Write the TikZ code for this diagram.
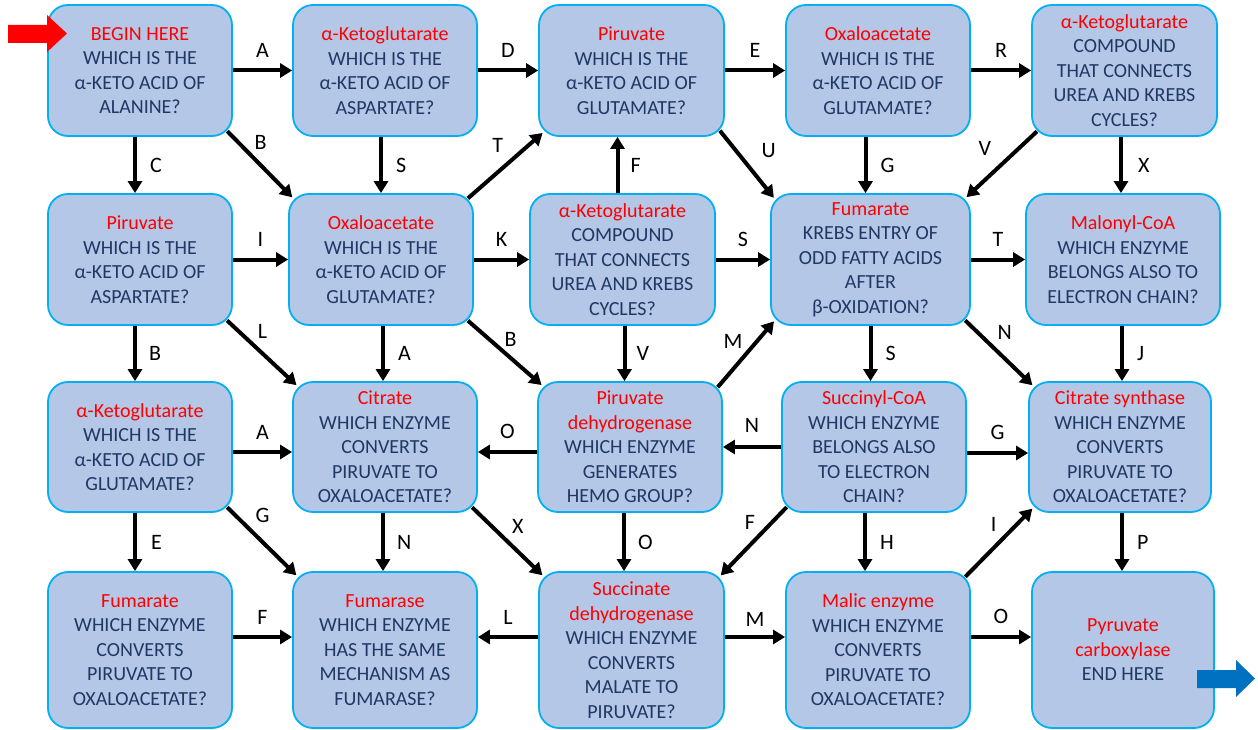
\documentclass[tikz,border=0pt]{standalone}
\usepackage{fontspec}
\setmainfont{Carlito}
\usetikzlibrary{arrows.meta,positioning}
\definecolor{boxfill}{RGB}{180,199,231}
\definecolor{boxline}{RGB}{0,176,240}
\definecolor{qtext}{RGB}{32,56,100}
\definecolor{startred}{RGB}{255,0,0}
\definecolor{endblue}{RGB}{0,112,192}
\newcommand{\ans}[1]{\textcolor{red}{#1}}
\tikzset{
  qbox/.style={draw=boxline,line width=1.8pt,fill=boxfill,rounded corners=20pt,align=center,text=qtext,inner sep=0pt,minimum width=184pt,minimum height=131pt,font=\fontsize{20}{24.5}\selectfont},
  tall/.style={minimum height=156pt},
  arr/.style={line width=4pt,-{Triangle[length=12pt,width=14pt]}},
  diag/.style={shorten <=-8pt,shorten >=-6pt},
  lbl/.style={font=\fontsize{22}{26}\selectfont,inner sep=0pt},
}

\begin{document}
\begin{tikzpicture}[x=1pt,y=-1pt]
  \useasboundingbox (0,0) rectangle (1258,730);
  % row 1
  \node[qbox] (B11) at (140,70.5) {\ans{BEGIN HERE}\\WHICH IS THE\\α-KETO ACID OF\\ALANINE?};
  \node[qbox] (B12) at (385,70.5) {\ans{α-Ketoglutarate}\\WHICH IS THE\\α-KETO ACID OF\\ASPARTATE?};
  \node[qbox,minimum width=185pt] (B13) at (631.5,70.5) {\ans{Piruvate}\\WHICH IS THE\\α-KETO ACID OF\\GLUTAMATE?};
  \node[qbox] (B14) at (878,70.5) {\ans{Oxaloacetate}\\WHICH IS THE\\α-KETO ACID OF\\GLUTAMATE?};
  \node[qbox,minimum width=185pt] (B15) at (1124.5,70.5) {\ans{α-Ketoglutarate}\\COMPOUND\\THAT CONNECTS\\UREA AND KREBS\\CYCLES?};
  % row 2
  \node[qbox] (B21) at (140,259.5) {\ans{Piruvate}\\WHICH IS THE\\α-KETO ACID OF\\ASPARTATE?};
  \node[qbox] (B22) at (381,259.5) {\ans{Oxaloacetate}\\WHICH IS THE\\α-KETO ACID OF\\GLUTAMATE?};
  \node[qbox,minimum width=185pt] (B23) at (622.5,259.5) {\ans{α-Ketoglutarate}\\COMPOUND\\THAT CONNECTS\\UREA AND KREBS\\CYCLES?};
  \node[qbox,minimum width=199pt] (B24) at (870.5,259.5) {\ans{Fumarate}\\KREBS ENTRY OF\\ODD FATTY ACIDS\\AFTER\\β-OXIDATION?};
  \node[qbox,minimum width=194pt] (B25) at (1123,259.5) {\ans{Malonyl-CoA}\\WHICH ENZYME\\BELONGS ALSO TO\\ELECTRON CHAIN?};
  % row 3
  \node[qbox,minimum height=130pt] (B31) at (140,447) {\ans{α-Ketoglutarate}\\WHICH IS THE\\α-KETO ACID OF\\GLUTAMATE?};
  \node[qbox,minimum height=130pt] (B32) at (385,447) {\ans{Citrate}\\WHICH ENZYME\\CONVERTS\\PIRUVATE TO\\OXALOACETATE?};
  \node[qbox,minimum height=130pt] (B33) at (630,447) {\ans{Piruvate}\\\ans{dehydrogenase}\\WHICH ENZYME\\GENERATES\\HEMO GROUP?};
  \node[qbox,minimum height=130pt] (B34) at (874,447) {\ans{Succinyl-CoA}\\WHICH ENZYME\\BELONGS ALSO\\TO ELECTRON\\CHAIN?};
  \node[qbox,minimum height=130pt,minimum width=182pt] (B35) at (1120,447) {\ans{Citrate synthase}\\WHICH ENZYME\\CONVERTS\\PIRUVATE TO\\OXALOACETATE?};
  % row 4
  \node[qbox,tall] (B41) at (140,650) {\ans{Fumarate}\\WHICH ENZYME\\CONVERTS\\PIRUVATE TO\\OXALOACETATE?};
  \node[qbox,tall] (B42) at (385,650) {\ans{Fumarase}\\WHICH ENZYME\\HAS THE SAME\\MECHANISM AS\\FUMARASE?};
  \node[qbox,tall,minimum width=185pt] (B43) at (631.5,650) {\ans{Succinate}\\\ans{dehydrogenase}\\WHICH ENZYME\\CONVERTS\\MALATE TO\\PIRUVATE?};
  \node[qbox,tall] (B44) at (878,650) {\ans{Malic enzyme}\\WHICH ENZYME\\CONVERTS\\PIRUVATE TO\\OXALOACETATE?};
  \node[qbox,tall,minimum width=182pt] (B45) at (1123,650) {\ans{Pyruvate}\\\ans{carboxylase}\\END HERE};
  % start and end
  \fill[startred] (8,25) -- (47,25) -- (47,15) -- (67,33.5) -- (47,52) -- (47,43) -- (8,43) -- cycle;
  \fill[endblue] (1197,670) -- (1236,670) -- (1236,660) -- (1255,678.5) -- (1236,697) -- (1236,688) -- (1197,688) -- cycle;
  % across
  \draw[arr] (B11.east) -- (B12.west) node[lbl,midway,above=11pt] {A};
  \draw[arr] (B12.east) -- (B13.west) node[lbl,midway,above=11pt] {D};
  \draw[arr] (B13.east) -- (B14.west) node[lbl,midway,above=11pt] {E};
  \draw[arr] (B14.east) -- (B15.west) node[lbl,midway,above=11pt] {R};
  \draw[arr] (B21.east) -- (B22.west) node[lbl,midway,above=11pt] {I};
  \draw[arr] (B22.east) -- (B23.west) node[lbl,midway,above=11pt] {K};
  \draw[arr] (B23.east) -- (B24.west) node[lbl,midway,above=11pt] {S};
  \draw[arr] (B24.east) -- (B25.west) node[lbl,midway,above=11pt] {T};
  \draw[arr] ([yshift=-5pt]B31.east) -- ([yshift=-5pt]B32.west) node[lbl,midway,above=11pt] {A};
  \draw[arr] ([yshift=-5pt]B33.west) -- ([yshift=-5pt]B32.east) node[lbl,midway,above=11pt] {O};
  \draw[arr] (B34.west) -- (B33.east) node[lbl,midway,above=13pt] {N};
  \draw[arr] ([yshift=-6pt]B34.east) -- ([yshift=-6pt]B35.west) node[lbl,midway,above=11pt] {G};
  \draw[arr] ([yshift=13pt]B41.east) -- ([yshift=13pt]B42.west) node[lbl,midway,above=11pt] {F};
  \draw[arr] ([yshift=13pt]B43.west) -- ([yshift=13pt]B42.east) node[lbl,midway,above=11pt] {L};
  \draw[arr] ([yshift=13pt]B43.east) -- ([yshift=13pt]B44.west) node[lbl,midway,above=9pt] {M};
  \draw[arr] ([yshift=13pt]B44.east) -- ([yshift=13pt]B45.west) node[lbl,midway,above=11pt] {O};
  % down and up
  \draw[arr] ([xshift=-5pt]B11.south) -- ([xshift=-5pt]B11.south |- B21.north) node[lbl,midway,right=13pt] {C};
  \draw[arr] ([xshift=-4pt]B12.south) -- ([xshift=-4pt]B12.south |- B22.north) node[lbl,midway,right=13pt] {S};
  \draw[arr] ([xshift=-5pt]B23.north) -- ([xshift=-5pt]B23.north |- B13.south) node[lbl,midway,right=11pt] {F};
  \draw[arr] ([xshift=-5pt]B24.north |- B14.south) -- ([xshift=-5pt]B24.north) node[lbl,midway,right=13pt] {G};
  \draw[arr] ([xshift=-2pt]B25.north |- B15.south) -- ([xshift=-2pt]B25.north) node[lbl,midway,right=15pt] {X};
  \draw[arr] ([xshift=-5pt]B21.south) -- ([xshift=-5pt]B21.south |- B31.north) node[lbl,midway,right=12pt] {B};
  \draw[arr] ([xshift=2pt]B22.south) -- ([xshift=2pt]B22.south |- B32.north) node[lbl,midway,right=13pt] {A};
  \draw[arr] ([xshift=2pt]B23.south) -- ([xshift=2pt]B23.south |- B33.north) node[lbl,midway,right=10pt] {V};
  \draw[arr] (B24.south) -- (B24.south |- B34.north) node[lbl,midway,right=13pt] {S};
  \draw[arr] ([xshift=-1pt]B25.south) -- ([xshift=-1pt]B25.south |- B35.north) node[lbl,midway,right=13pt] {J};
  \draw[arr] ([xshift=-5pt]B31.south) -- ([xshift=-5pt]B31.south |- B41.north) node[lbl,midway,right=14pt] {E};
  \draw[arr] ([xshift=-2pt]B32.south) -- ([xshift=-2pt]B32.south |- B42.north) node[lbl,midway,right=12pt] {N};
  \draw[arr] ([xshift=-6pt]B33.south) -- ([xshift=-6pt]B33.south |- B43.north) node[lbl,midway,right=12pt] {O};
  \draw[arr] ([xshift=-9pt]B34.south) -- ([xshift=-9pt]B34.south |- B44.north) node[lbl,midway,right=13pt] {H};
  \draw[arr] ([xshift=2pt]B35.south) -- ([xshift=2pt]B35.south |- B45.north) node[lbl,midway,right=13pt] {P};
  % diagonals
  \draw[arr,diag] (B11.south east) -- (B22.north west) node[lbl,midway,above=13pt] {B};
  \draw[arr,diag] (B22.north east) -- (B13.south west) node[lbl,midway,above left=10pt and 1pt] {T};
  \draw[arr,diag] (B13.south east) -- (B24.north west) node[lbl,midway,above right=5pt and 12pt] {U};
  \draw[arr,diag] (B15.south west) -- (B24.north east) node[lbl,midway,above left=7pt and 8pt] {V};
  \draw[arr,diag] (B21.south east) -- (B32.north west) node[lbl,midway,above=13pt] {L};
  \draw[arr,diag] (B22.south east) -- (B33.north west) node[lbl,midway,above right=5pt and -3pt] {B};
  \draw[arr,diag] (B33.north east) -- (B24.south west) node[lbl,midway,above left=3pt and 2pt] {M};
  \draw[arr,diag] (B24.south east) -- (B35.north west) node[lbl,midway,above right=12pt and -4pt] {N};
  \draw[arr,diag] (B31.south east) -- (B42.north west) node[lbl,midway,above=17pt] {G};
  \draw[arr,diag] (B32.south east) -- (B43.north west) node[lbl,midway,above right=7pt and 2pt] {X};
  \draw[arr,diag] (B34.south west) -- (B43.north east) node[lbl,midway,above left=11pt and -4pt] {F};
  \draw[arr,diag] (B44.north east) -- (B35.south west) node[lbl,midway,above left=9pt and 1pt] {I};
\end{tikzpicture}
\end{document}
